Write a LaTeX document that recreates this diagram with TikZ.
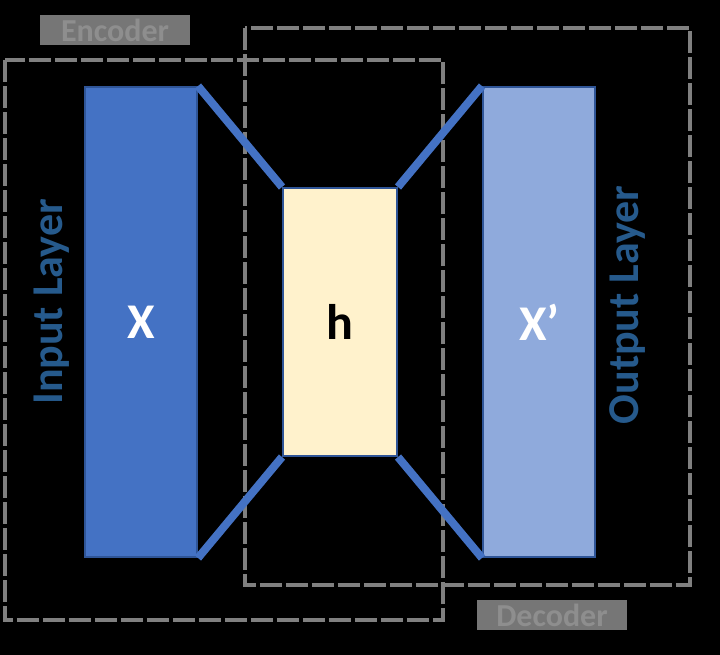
\documentclass[tikz,border=0pt]{standalone}
\usepackage{fontspec}
\setmainfont{Carlito}
\usepackage{tikz}
\usetikzlibrary{positioning}
\definecolor{inblue}{RGB}{68,114,196}
\definecolor{outblue}{RGB}{143,170,220}
\definecolor{codecream}{RGB}{255,242,204}
\definecolor{edgeblue}{RGB}{47,85,151}
\definecolor{lblblue}{RGB}{38,90,140}
\definecolor{frame}{RGB}{128,128,128}
\definecolor{tagfill}{RGB}{118,118,118}
\definecolor{tagtext}{RGB}{142,142,142}

\begin{document}
\begin{tikzpicture}[
    x=0.5pt, y=-0.5pt,
    layer/.style   = {draw=edgeblue, line width=1pt, minimum width=56pt,
                      minimum height=235pt, inner sep=0pt,
                      font=\fontsize{25}{30}\selectfont\bfseries},
    code/.style    = {draw=edgeblue, line width=1pt, fill=codecream,
                      minimum width=57pt, minimum height=134pt, inner sep=0pt,
                      font=\fontsize{25}{30}\selectfont\bfseries},
    link/.style    = {line width=4pt, color=inblue},
    part/.style    = {draw=frame, line width=2.2pt, dash pattern=on 11pt off 2pt},
    tag/.style     = {fill=tagfill, text=tagtext, minimum width=75pt,
                      minimum height=15pt, inner sep=0pt,
                      font=\fontsize{16}{18}\selectfont\bfseries},
    layerlbl/.style= {rotate=90, text=lblblue,
                      font=\fontsize{22}{26}\selectfont\bfseries}
  ]
  \useasboundingbox (0,0) rectangle (720,655);
  \fill[black] (0,0) rectangle (720,655);

  % encoder / decoder frames
  \draw[part] (5,60) rectangle (443,620);
  \draw[part] (245,28) rectangle (690,585);
  \node[tag] (enc) at (115,30)  {Encoder};
  \node[tag] (dec) at (552,615) {Decoder};

  % layers
  \node[layer, fill=inblue, text=white] (x) at (141,322) {X};
  \node[code, right=42pt of x] (h) {h};
  \node[layer, fill=outblue, text=white, right=42pt of h] (xp) {X’};

  \node[layerlbl] (inlbl)  at (52,302)  {Input Layer};
  \node[layerlbl] (outlbl) at (628,305) {Output Layer};

  \draw[link] (x.north east) -- (h.north west);
  \draw[link] (x.south east) -- (h.south west);
  \draw[link] (h.north east) -- (xp.north west);
  \draw[link] (h.south east) -- (xp.south west);
\end{tikzpicture}
\end{document}
